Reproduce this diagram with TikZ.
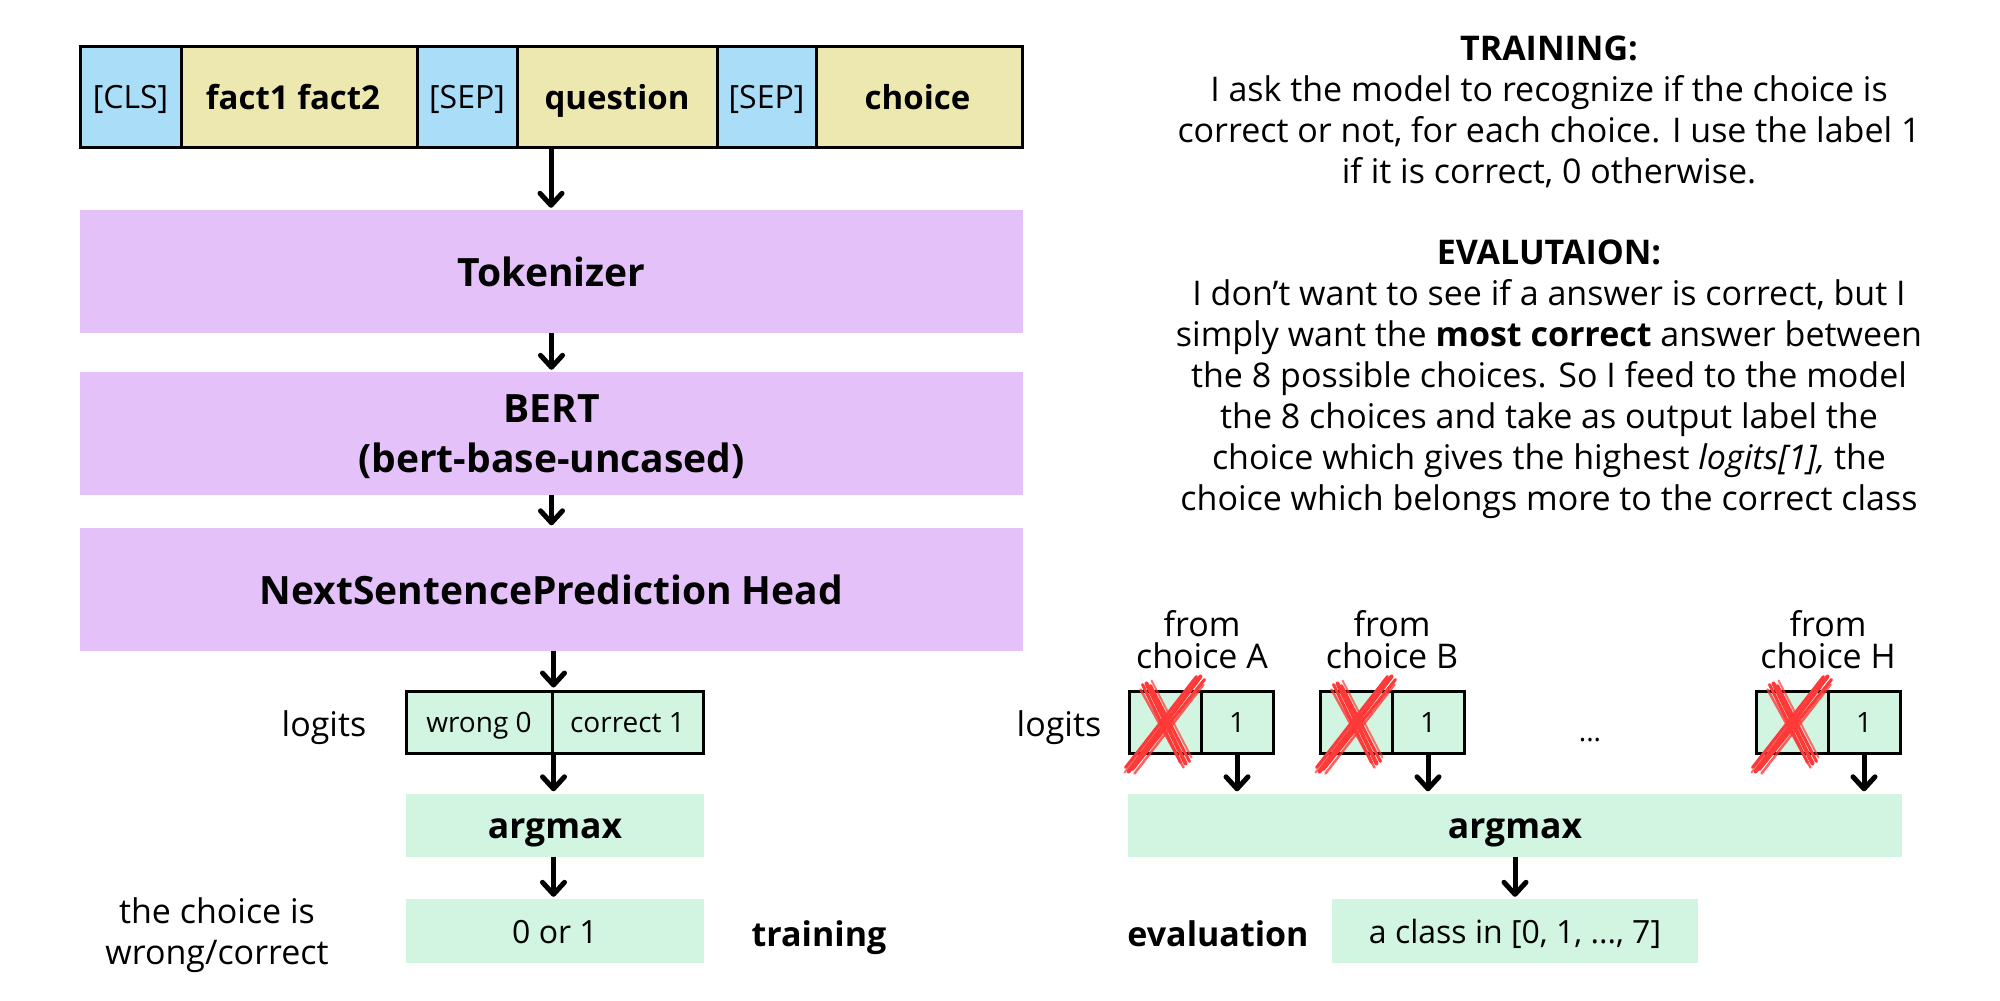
\documentclass[tikz,border=0pt]{standalone}
\usepackage{fontspec}
\setmainfont{Open Sans}
\usetikzlibrary{arrows.meta,calc}
\definecolor{cblue}{HTML}{AADEF8}
\definecolor{cyellow}{HTML}{EDE8B0}
\definecolor{cpurple}{HTML}{E4C1F9}
\definecolor{cgreen}{HTML}{D1F5E1}
\definecolor{xred}{HTML}{FF3838}
\newcommand\myredX[1]{%
  \begin{scope}[shift={(#1)}, xred, line cap=round]
    \draw[line width=4pt] (1,17) -- (73,-78);
    \draw[line width=3pt] (5,15) -- (77,-75);
    \draw[line width=3pt] (-2,13) -- (69,-78);
    \draw[line width=2.5pt, opacity=.8] (7,19) -- (76,-70);
    \draw[line width=2pt, opacity=.7] (-3,18) -- (66,-74);
    \draw[line width=4pt] (19,-71) -- (58,9);
    \draw[line width=3pt] (15,-70) -- (53,8);
    \draw[line width=3pt] (23,-69) -- (62,7);
    \draw[line width=2.5pt, opacity=.8] (13,-65) -- (56,13);
    \draw[line width=2pt, opacity=.7] (24,-74) -- (64,3);
  \end{scope}}
\begin{document}
\begin{tikzpicture}[x=1pt,y=-1pt,
  one/.style={text height=#1, text depth=0pt},
  tokcell/.style={one=24.8pt, draw=black, line width=3pt, inner sep=0pt, minimum height=101pt, font=\fontsize{32}{38}\selectfont},
  tokbold/.style={tokcell, one=25.6pt, font=\fontsize{33}{38}\selectfont\bfseries},
  blk/.style={fill=cpurple, inner sep=0pt, minimum width=943pt, minimum height=123pt, align=center, font=\fontsize{39}{50}\selectfont\bfseries},
  gcell/.style={one=21.7pt, draw=black, fill=cgreen, line width=3pt, inner sep=0pt, minimum height=62pt, font=\fontsize{28}{34}\selectfont},
  gbox/.style={fill=cgreen, inner sep=0pt, minimum height=63pt},
  lbl/.style={inner sep=0pt, font=\fontsize{34}{41}\selectfont, align=center},
  arr/.style={line width=5pt, -{Straight Barb[length=12pt, width=22pt, round]}, shorten >=2pt}
]
\fill[white] (0,0) rectangle (2000,1001);
\useasboundingbox (0,0) rectangle (2000,1001);

% top token bar
\node[tokcell, fill=cblue, minimum width=101pt] (cls) at (130.5,96.5) {[CLS]};
\node[tokbold, fill=cyellow, minimum width=236pt] (fact) at (299,96.5) {fact1 fact2\hspace*{12pt}};
\node[tokcell, fill=cblue, minimum width=100pt] (sepa) at (467,96.5) {[SEP]};
\node[tokbold, fill=cyellow, minimum width=200pt] (quest) at (617,96.5) {question};
\node[tokcell, fill=cblue, minimum width=99pt] (sepb) at (766.5,96.5) {[SEP]};
\node[tokbold, fill=cyellow, minimum width=206pt] (choice) at (919,96.5) {choice\hspace*{3pt}};
\coordinate (barS) at ($(cls.south west)!0.5!(choice.south east)$);

% model blocks
\node[blk, one=30.3pt] (tok) at (551.5,271.5) {Tokenizer};
\node[blk] (bert) at (551.5,433.5) {};
\node[lbl, font=\fontsize{39}{50}\selectfont\bfseries] (berttxt) at ([yshift=-3pt]bert.center) {BERT\\(bert-base-uncased)};
\node[blk, one=30.3pt] (nsp) at (551.5,589) {NextSentencePrediction Head};

\draw[arr] (barS) -- (barS |- tok.north);
\draw[arr] (tok.south) -- (bert.north);
\draw[arr] (bert.south) -- (nsp.north);

% training branch
\node[gcell, minimum width=146pt] (wrong) at (479,722) {wrong 0};
\node[gcell, minimum width=151pt] (correct) at (627.5,722) {correct 1};
\node[lbl, one=26.4pt] (logl) at (324,723) {logits};
\draw[arr] (nsp.south -| wrong.north east) -- (wrong.north east);
\node[gbox, one=27.5pt, minimum width=298pt, font=\fontsize{35.5}{41}\selectfont\bfseries] (argl) at (555,825) {argmax};
\draw[arr] (wrong.south east) -- (wrong.south east |- argl.north);
\node[gbox, one=24.8pt, minimum width=298pt, minimum height=64pt, font=\fontsize{32}{38}\selectfont] (outl) at (555,931) {0 or 1};
\draw[arr] (argl.south -| wrong.south east) -- (outl.north -| wrong.south east);
\node[lbl] (choicelbl) at (217,935) {the choice is\\wrong/correct};
\node[lbl, one=26.4pt, font=\fontsize{34}{41}\selectfont\bfseries] (trainlbl) at (819,933) {training};

% evaluation branch
\node[lbl, one=26.4pt] (logr) at (1059,723) {logits};
\node[gcell, minimum width=72pt] (la) at (1165,722) {};
\node[gcell, minimum width=72pt] (ra) at (1237,722) {1};
\node[gcell, minimum width=72pt] (lb) at (1356,722) {};
\node[gcell, minimum width=72pt] (rb) at (1428,722) {1};
\node[gcell, minimum width=72pt] (lh) at (1792,722) {};
\node[gcell, minimum width=72pt] (rh) at (1864,722) {1};
\node[lbl, one=21.7pt, font=\fontsize{28}{34}\selectfont] (dots) at (1590,731) {...};
\node[lbl, font=\fontsize{34}{32}\selectfont] (fa) at (1202,640) {from\\choice A};
\node[lbl, font=\fontsize{34}{32}\selectfont] (fb) at (1392,640) {from\\choice B};
\node[lbl, font=\fontsize{34}{32}\selectfont] (fh) at (1828,640) {from\\choice H};
\myredX{la.south west}
\myredX{lb.south west}
\myredX{lh.south west}

\node[gbox, one=27.5pt, minimum width=774pt, font=\fontsize{35.5}{41}\selectfont\bfseries] (argr) at (1515,825) {argmax};
\draw[arr] (ra.south) -- (ra.south |- argr.north);
\draw[arr] (rb.south) -- (rb.south |- argr.north);
\draw[arr] (rh.south) -- (rh.south |- argr.north);
\node[gbox, one=24.8pt, minimum width=366pt, minimum height=64pt, font=\fontsize{32}{38}\selectfont] (outr) at (1515,931) {a class in [0, 1, ..., 7]};
\draw[arr] (argr.south) -- (outr.north);
\node[lbl, one=26.4pt, font=\fontsize{34}{41}\selectfont\bfseries] (evallbl) at (1218,933) {evaluation};

% explanation text
\node[lbl] (traintxt) at (1549,112) {\textbf{TRAINING:}\\I ask the model to recognize if the choice is\\correct or not, for each choice. I use the label 1\\if it is correct, 0 otherwise.};
\node[lbl] (evaltxt) at (1549,379) {\textbf{EVALUTAION:}\\I don’t want to see if a answer is correct, but I\\simply want the \textbf{most correct} answer between\\the 8 possible choices. So I feed to the model\\the 8 choices and take as output label the\\choice which gives the highest \textit{logits[1],} the\\choice which belongs more to the correct class};
\end{tikzpicture}
\end{document}
